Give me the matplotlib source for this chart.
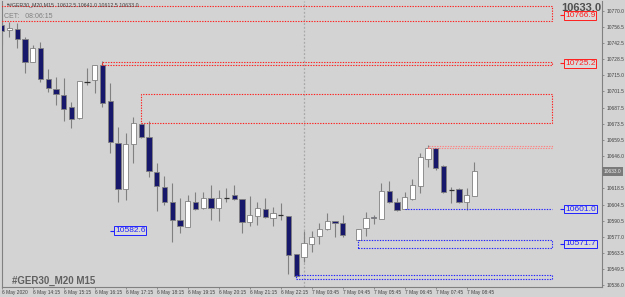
import matplotlib
matplotlib.use('Agg')
import matplotlib.pyplot as plt
import numpy as np
from matplotlib.patches import Rectangle
import matplotlib.transforms as mtransforms

plt.rcParams['font.family'] = ['Liberation Sans', 'DejaVu Sans']

# GER30 M15 candles (bar 45 not visible on the chart)
nan = float('nan')
opens = [10757.8, 10753.6, 10754.4, 10745.9, 10726.3, 10738.2, 10711.8, 10703.3, 10698.2, 10687.9,
         10678.6, 10709.5, 10710.9, 10723.7, 10693.0, 10657.3, 10618.1, 10656.4, 10673.5, 10662.4,
         10632.5, 10619.8, 10607.0, 10591.6, 10585.7, 10607.0, 10601.9, 10610.4, 10601.9, 10610.8,
         10612.9, 10609.5, 10589.9, 10595.0, 10601.0, 10593.3, 10595.9, 10595.0, 10562.7, 10560.1,
         10571.2, 10578.0, 10584.0, 10590.8, 10589.1, nan, 10574.6, 10584.8, 10594.2, 10592.5,
         10616.4, 10607.0, 10601.0, 10609.5, 10620.6, 10643.6, 10653.0, 10637.7, 10617.2, 10618.1,
         10607.0, 10612.5]
highs = [10760.4, 10760.4, 10759.5, 10747.6, 10740.8, 10743.3, 10720.3, 10713.5, 10712.7, 10692.2,
         10710.5, 10721.2, 10723.7, 10727.1, 10708.4, 10670.9, 10665.8, 10679.4, 10674.3, 10676.0,
         10640.2, 10629.1, 10623.2, 10610.4, 10612.9, 10615.5, 10615.5, 10621.5, 10617.2, 10618.9,
         10621.5, 10609.5, 10612.1, 10607.0, 10610.4, 10602.7, 10606.1, 10595.0, 10562.7, 10582.3,
         10582.3, 10589.1, 10597.6, 10590.8, 10595.9, nan, 10584.4, 10598.5, 10595.5, 10623.2,
         10624.9, 10610.4, 10615.5, 10626.6, 10648.7, 10655.5, 10653.4, 10638.5, 10619.8, 10618.9,
         10618.9, 10641.0]
lows = [10740.8, 10747.6, 10738.2, 10716.9, 10725.9, 10709.2, 10700.7, 10689.6, 10676.0, 10670.0,
        10678.1, 10706.7, 10699.9, 10687.9, 10648.7, 10607.0, 10608.7, 10640.2, 10661.5, 10628.3,
        10599.3, 10604.4, 10572.9, 10580.6, 10585.3, 10600.2, 10601.4, 10591.6, 10590.8, 10607.0,
        10608.7, 10580.6, 10586.5, 10587.4, 10593.3, 10586.5, 10591.6, 10545.6, 10543.1, 10555.8,
        10564.4, 10571.2, 10583.1, 10577.2, 10577.2, nan, 10574.2, 10578.0, 10588.2, 10592.1,
        10606.1, 10599.3, 10600.8, 10608.7, 10614.6, 10636.8, 10634.3, 10614.6, 10606.1, 10606.1,
        10600.2, 10612.5]
closes = [10752.7, 10755.3, 10745.9, 10726.3, 10738.2, 10711.8, 10704.1, 10699.0, 10686.2, 10677.7,
          10710.1, 10710.0, 10723.7, 10691.3, 10658.1, 10618.1, 10656.4, 10674.3, 10662.4, 10633.4,
          10620.6, 10607.0, 10591.6, 10586.5, 10607.8, 10601.0, 10610.4, 10601.9, 10610.4, 10611.2,
          10609.5, 10589.9, 10595.9, 10601.9, 10594.2, 10597.6, 10595.5, 10561.8, 10543.9, 10572.0,
          10577.2, 10584.0, 10590.8, 10589.1, 10578.9, nan, 10584.0, 10593.3, 10593.5, 10616.4,
          10607.0, 10600.2, 10611.2, 10621.5, 10645.3, 10653.0, 10636.0, 10615.5, 10616.8, 10607.0,
          10612.9, 10633.0]

time_bars = [0, 4, 8, 12, 16, 20, 24, 28, 32, 36, 40, 44, 48, 52, 56, 60]
time_labels = ["6 May 2020", "6 May 14:15", "6 May 15:15", "6 May 16:15", "6 May 17:15",
               "6 May 18:15", "6 May 19:15", "6 May 20:15", "6 May 21:15", "6 May 22:15",
               "7 May 03:45", "7 May 04:45", "7 May 05:45", "7 May 06:45", "7 May 07:45",
               "7 May 08:45"]
price_ticks = [10770.0, 10756.5, 10742.5, 10728.5, 10715.0, 10701.5, 10687.5, 10673.5, 10659.5,
               10646.0, 10618.5, 10604.5, 10590.5, 10577.0, 10563.5, 10549.5, 10536.0]

# zones drawn on the chart: start bar, end bar, top, bottom, colour
zone_start = [-2, 13, 18, 55, 46, 38]
zone_end = [71, 71, 71, 71, 71, 71]
zone_top = [10774.4, 10726.0, 10699.0, 10655.0, 10574.6, 10544.8]
zone_bottom = [10761.6, 10723.4, 10673.9, 10652.7, 10567.5, 10541.4]
zone_color = ['#ff1e1e', '#ff1e1e', '#ff1e1e', '#ff8080', '#2020ff', '#2020ff']
support_level = 10601.0
support_start = 52

# price labels: value, bar, colour
mark_values = [10766.9, 10725.2, 10601.0, 10571.7, 10582.6]
mark_y = [10766.0, 10725.2, 10601.0, 10571.2, 10582.6]
mark_bar = [72.7, 72.7, 72.7, 72.7, 14.6]
mark_color = ['#ff1e1e', '#ff1e1e', '#2020ff', '#2020ff', '#2020ff']

bg = '#d3d3d3'
navy = '#17176b'
grey = '#808080'

fig = plt.figure(figsize=(6.25, 2.97), dpi=100, facecolor=bg)
ax = fig.add_axes([1.7/625, 10.3/297, 600.3/625, 285.7/297])
ax.set_facecolor(bg)
ax.set_xlim(0, 77.46)
ax.set_ylim(10534.8, 10778.3)

for i in range(len(opens)):
    o, h, l, c = opens[i], highs[i], lows[i], closes[i]
    if np.isnan(o):
        continue
    ax.vlines(i, l, h, color=grey, lw=0.8, zorder=2)
    fc = navy if c < o else 'white'
    if abs(c - o) < 0.7:
        ax.hlines(o, i - 0.34, i + 0.34, color='#303030', lw=0.9, zorder=3)
    else:
        ax.add_patch(Rectangle((i - 0.34, min(o, c)), 0.68, abs(c - o), facecolor=fc,
                               edgecolor=grey, lw=0.6, zorder=3))

for s, e, t, b, col in zip(zone_start, zone_end, zone_top, zone_bottom, zone_color):
    ax.add_patch(Rectangle((s, b), e - s, t - b, fill=False, edgecolor=col, lw=0.8,
                           linestyle=(0, (1.2, 1.2)), zorder=4))
ax.hlines(support_level, support_start, 71, color='#2020ff', lw=0.8,
          linestyle=(0, (1.2, 1.2)), zorder=4)

# day separator
ax.axvline(39, color='#a8a8a8', lw=0.9, linestyle=(0, (1.5, 1.5)), zorder=1)

for v, yv, xb, col in zip(mark_values, mark_y, mark_bar, mark_color):
    ax.hlines(yv, xb - 0.6, xb - 0.05, color=col, lw=0.8, zorder=5)
    ax.text(xb, yv, '%.1f' % v, color=col, fontsize=6, va='center', ha='left', zorder=6,
            bbox=dict(boxstyle='square,pad=0.1', facecolor='#dadada', edgecolor=col, lw=0.7))

# axes styling
for sp in ['top']:
    ax.spines[sp].set_visible(False)
for sp in ['left', 'right', 'bottom']:
    ax.spines[sp].set_color(grey)
    ax.spines[sp].set_linewidth(0.8)

ax.yaxis.tick_right()
ax.set_yticks(price_ticks)
ax.set_yticklabels(['%.1f' % p for p in price_ticks])
ax.tick_params(axis='y', direction='out', length=1.5, width=0.6, color=grey, labelsize=3.5,
               labelcolor='#404040', pad=1.5)
ax.set_xticks(time_bars)
ax.set_xticklabels(time_labels)
ax.tick_params(axis='x', direction='out', length=1.5, width=0.6, color=grey, labelsize=3.5,
               labelcolor='#404040', pad=1)
for lbl in ax.get_xticklabels():
    lbl.set_ha('left')

# current price box on the price scale
trans = mtransforms.blended_transform_factory(ax.transAxes, ax.transData)
ax.text(1.003, closes[-1], '%.1f' % closes[-1], transform=trans, fontsize=3.5, color='#f0f0f0',
        va='center', ha='left', clip_on=False,
        bbox=dict(boxstyle='square,pad=0.35', facecolor='#7a7a7a', edgecolor='none'))

# texts
fig.text(601/625, 1 - 8/297, '%.1f' % closes[-1], fontsize=8, fontweight='bold', color='#505050',
         ha='right', va='center')
fig.text(5/625, 1 - 4.5/297, '\u25bc', fontsize=3, color='#404040', va='center', ha='left')
fig.text(9/625, 1 - 4.5/297, '#GER30_M20,M15  %.1f %.1f %.1f %.1f' % (opens[-1], highs[-1], lows[-1], closes[-1]),
         fontsize=3.8, color='#404040', va='center', ha='left')
fig.text(4/625, 1 - 16.7/297, 'CET:   08:06:15', fontsize=5, color='#808080', va='center', ha='left')
fig.text(12/625, 1 - 280.5/297, '#GER30_M20 M15', fontsize=7, fontweight='bold', color='#606060',
         va='center', ha='left')

plt.savefig('out.png', dpi=100, facecolor=bg)
